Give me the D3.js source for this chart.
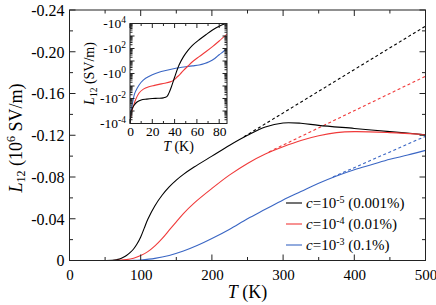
<!DOCTYPE html>
<html><head><meta charset="utf-8">
<script src="https://cdn.jsdelivr.net/npm/d3@7/dist/d3.min.js"></script>
<style>body{margin:0;background:#fff}svg{display:block}</style>
</head><body><svg id="c" width="436" height="305"></svg>
<script>
// ---------- data ----------
const xTicksMain = [0,100,200,300,400,500];
const yTicksMain = [0,0.04,0.08,0.12,0.16,0.20,0.24];
const legendExp = ["-5","-4","-3"];
const legendPct = [" (0.001%)"," (0.01%)"," (0.1%)"];
const colors = ["#000000","#f03a3a","#3a66c4"];

const blackT = [0,50,60,65,70,75,80,85,90,95,100,105,110,120,130,140,150,160,175,200,225,250,275,300,325,350,400,450,500];
const blackV = [0,0,0.0002,0.0006,0.0013,0.0028,0.0048,0.0075,0.011,0.016,0.0225,0.031,0.0395,0.0525,0.0625,0.0705,0.077,0.0825,0.0895,0.1000,0.1105,0.1200,0.1280,0.1318,0.1315,0.1295,0.1265,0.1235,0.1205];
const blackDashT = [245,500];
const blackDashV = [0.1185,0.2245];

const redT = [0,60,70,80,90,100,110,120,130,140,150,160,175,200,225,250,275,300,325,350,375,400,450,500];
const redV = [0,0,0.0002,0.0008,0.0022,0.0048,0.0085,0.014,0.021,0.029,0.037,0.045,0.055,0.069,0.082,0.093,0.102,0.109,0.115,0.1195,0.1225,0.1235,0.1225,0.1205];
const redDashT = [280,500];
const redDashV = [0.104,0.1765];

const blueT = [0,80,90,100,120,140,160,180,200,225,250,275,300,325,350,375,400,425,450,475,500];
const blueV = [0,0,0.0001,0.0005,0.002,0.0048,0.009,0.0145,0.021,0.030,0.040,0.049,0.058,0.066,0.074,0.081,0.087,0.092,0.097,0.101,0.1055];
const blueDashT = [370,500];
const blueDashV = [0.080,0.119];

// inset (log10 of |L12| in SV/m)
const insetXTicks = [0,20,40,60,80];
const insetYTicks = [-4,-2,0,2,4];
const blackInT = [0,1,2,4,6,10,15,20,25,30,33,35,37,40,44,48,52,56,62,68,74,80,87];
const blackInL = [-4,-3.2,-2.8,-2.5,-2.3,-2.12,-2.05,-2.0,-1.98,-1.95,-1.85,-1.55,-1.1,-0.3,0.68,1.35,1.85,2.25,2.7,3.1,3.48,3.78,4.05];
const redInT = [0,1,2,3.4,5,8,12,17,22,26,31,36,39,42,45,48,52,56,62,68,74,80,87];
const redInL = [-4,-3.3,-2.9,-2.52,-2.1,-1.58,-1.25,-1.06,-0.95,-0.87,-0.78,-0.67,-0.55,-0.3,-0.05,0.25,0.6,0.94,1.35,1.74,2.15,2.6,3.15];
const blueInT = [0,0.5,1,2.5,4,6.4,10,14,20,26,32,38,44,50,56,62,67,71,76,80,84,87];
const blueInL = [-4,-3.3,-2.9,-2.26,-1.65,-1.18,-0.7,-0.38,-0.1,0.1,0.24,0.36,0.46,0.54,0.61,0.68,0.8,0.94,1.2,1.5,1.78,2.0];

const FONT = "'Liberation Serif','Times New Roman','DejaVu Serif',serif";

// ---------- main chart ----------
const svg = d3.select("#c");
const M = {l:69.5, r:425.5, t:10, b:260.5};
const x = d3.scaleLinear().domain([0,500]).range([M.l,M.r]);
const y = d3.scaleLinear().domain([0,0.24]).range([M.b,M.t]);

const zip = (a,b)=>a.map((t,i)=>[t,b[i]]);
const line = d3.line().x(d=>x(d[0])).y(d=>y(d[1])).curve(d3.curveCatmullRom.alpha(0.5));

const g = svg.append("g");
const solids = [zip(blackT,blackV), zip(redT,redV), zip(blueT,blueV)];
const dashes = [zip(blackDashT,blackDashV), zip(redDashT,redDashV), zip(blueDashT,blueDashV)];
dashes.forEach((d,i)=>g.append("path").attr("d",line(d)).attr("fill","none")
  .attr("stroke",colors[i]).attr("stroke-width",1.1).attr("stroke-dasharray","3,2.5"));
solids.forEach((d,i)=>g.append("path").attr("d",line(d)).attr("fill","none")
  .attr("stroke",colors[i]).attr("stroke-width",1.1));

// axes
const fmtY = d => d===0 ? "0" : "-" + d.toFixed(2);
const xMinor = d3.range(0,501,50), yMinor = d3.range(0,0.2401,0.02);
const axB = d3.axisBottom(x).tickValues(xTicksMain).tickSize(0).tickPadding(9).tickFormat(d3.format("d"));
const axL = d3.axisLeft(y).tickValues(yTicksMain).tickSize(0).tickPadding(5).tickFormat(fmtY);
const gb = svg.append("g").attr("transform",`translate(0,${M.b})`).call(axB);
const gl = svg.append("g").attr("transform",`translate(${M.l},0)`).call(axL);
[gb,gl].forEach(a=>{a.select(".domain").remove(); a.attr("font-family",null).attr("font-size",null);
  a.selectAll("text").style("font-family",FONT).style("font-size","16px").attr("fill","#000");});
gb.selectAll("text").style("font-size","15px");
gl.selectAll("text").attr("dy","0.34em");

// frame and ticks
svg.append("rect").attr("x",M.l).attr("y",M.t).attr("width",M.r-M.l).attr("height",M.b-M.t)
  .attr("fill","none").attr("stroke","#222").attr("stroke-width",1);
const tk = svg.append("g").attr("stroke","#222").attr("stroke-width",1);
xMinor.forEach(v=>{
  const L = (Math.round(v)%100===0)?6:3.5;
  tk.append("line").attr("x1",x(v)).attr("x2",x(v)).attr("y1",M.b).attr("y2",M.b-L);
  tk.append("line").attr("x1",x(v)).attr("x2",x(v)).attr("y1",M.t).attr("y2",M.t+L);
});
yMinor.forEach((v,i)=>{
  const L = (i%2===0)?6:3.5;
  tk.append("line").attr("y1",y(v)).attr("y2",y(v)).attr("x1",M.l).attr("x2",M.l+L);
  tk.append("line").attr("y1",y(v)).attr("y2",y(v)).attr("x1",M.r).attr("x2",M.r-L);
});

function txt(sel){ return sel.append("text").style("font-family",FONT).attr("fill","#000"); }

// axis titles
const xt = txt(svg).attr("x",(M.l+M.r)/2).attr("y",298).attr("text-anchor","middle").style("font-size","18px");
xt.append("tspan").attr("font-style","italic").text("T");
xt.append("tspan").text(" (K)");
const yt = txt(svg).attr("transform",`translate(22,138) rotate(-90)`).attr("text-anchor","middle").style("font-size","18px");
yt.append("tspan").attr("font-style","italic").text("L");
yt.append("tspan").attr("baseline-shift","-25%").style("font-size","12px").text("12");
yt.append("tspan").text(" (10");
yt.append("tspan").attr("baseline-shift","super").style("font-size","12px").text("6");
yt.append("tspan").text(" SV/m)");

// legend
const lg = svg.append("g");
[203,224,245].forEach((yy,i)=>{
  lg.append("line").attr("x1",286).attr("x2",302).attr("y1",yy).attr("y2",yy).attr("stroke",colors[i]).attr("stroke-width",1.1);
  const t = txt(lg).attr("x",306).attr("y",yy+5).style("font-size","15px");
  t.append("tspan").attr("font-style","italic").text("c");
  t.append("tspan").text("=10");
  t.append("tspan").attr("baseline-shift","super").style("font-size","10px").text(legendExp[i]);
  t.append("tspan").text(legendPct[i]);
});

// ---------- inset ----------
const I = {l:130, r:227, t:23.5, b:123.5};
const xi = d3.scaleLinear().domain([0,87]).range([I.l,I.r]);
const yi = d3.scaleLinear().domain([-4,4]).range([I.b,I.t]);
svg.append("rect").attr("x",I.l).attr("y",I.t).attr("width",I.r-I.l).attr("height",I.b-I.t).attr("fill","#fff");
const lineI = d3.line().x(d=>xi(d[0])).y(d=>yi(d[1])).curve(d3.curveCatmullRom.alpha(0.5));
const defs = svg.append("defs");
defs.append("clipPath").attr("id","ic").append("rect").attr("x",I.l).attr("y",I.t).attr("width",I.r-I.l).attr("height",I.b-I.t);
const gi = svg.append("g").attr("clip-path","url(#ic)");
[zip(blueInT,blueInL), zip(redInT,redInL), zip(blackInT,blackInL)].forEach((d,k)=>{
  gi.append("path").attr("d",lineI(d)).attr("fill","none").attr("stroke",colors[2-k]).attr("stroke-width",1.1);
});
svg.append("rect").attr("x",I.l).attr("y",I.t).attr("width",I.r-I.l).attr("height",I.b-I.t)
  .attr("fill","none").attr("stroke","#222").attr("stroke-width",1);
const ti = svg.append("g").attr("stroke","#222").attr("stroke-width",1);
d3.range(0,87,10).forEach(v=>{
  const L = (v%20===0)?4.5:2.5;
  ti.append("line").attr("x1",xi(v)).attr("x2",xi(v)).attr("y1",I.b).attr("y2",I.b-L);
  ti.append("line").attr("x1",xi(v)).attr("x2",xi(v)).attr("y1",I.t).attr("y2",I.t+L);
});
for(let e=-4;e<4;e++){
  for(let m=1;m<10;m++){
    const v = e+Math.log10(m);
    const L = m===1?4.5:2.5;
    ti.append("line").attr("y1",yi(v)).attr("y2",yi(v)).attr("x1",I.l).attr("x2",I.l+L);
    ti.append("line").attr("y1",yi(v)).attr("y2",yi(v)).attr("x1",I.r).attr("x2",I.r-L);
  }
}
const axBI = d3.axisBottom(xi).tickValues(insetXTicks).tickSize(0).tickPadding(3).tickFormat(d3.format("d"));
const gbi = svg.append("g").attr("transform",`translate(0,${I.b})`).call(axBI);
gbi.select(".domain").remove();
gbi.attr("font-family",null).attr("font-size",null);
gbi.selectAll("text").style("font-family",FONT).style("font-size","13.5px").attr("fill","#000");
insetYTicks.forEach(e=>{
  const t = txt(svg).attr("x",I.l-4).attr("y",yi(e)+4.5).attr("text-anchor","end").style("font-size","13.5px");
  t.append("tspan").text("-10");
  t.append("tspan").attr("baseline-shift","super").style("font-size","9.5px").text(String(e));
});
const xti = txt(svg).attr("x",(I.l+I.r)/2).attr("y",151).attr("text-anchor","middle").style("font-size","14px");
xti.append("tspan").attr("font-style","italic").text("T");
xti.append("tspan").text(" (K)");
const yti = txt(svg).attr("transform",`translate(94,${(I.t+I.b)/2}) rotate(-90)`).attr("text-anchor","middle").style("font-size","14px");
yti.append("tspan").attr("font-style","italic").text("L");
yti.append("tspan").attr("baseline-shift","-25%").style("font-size","9.5px").text("12");
yti.append("tspan").text(" (SV/m)");
</script></body></html>
